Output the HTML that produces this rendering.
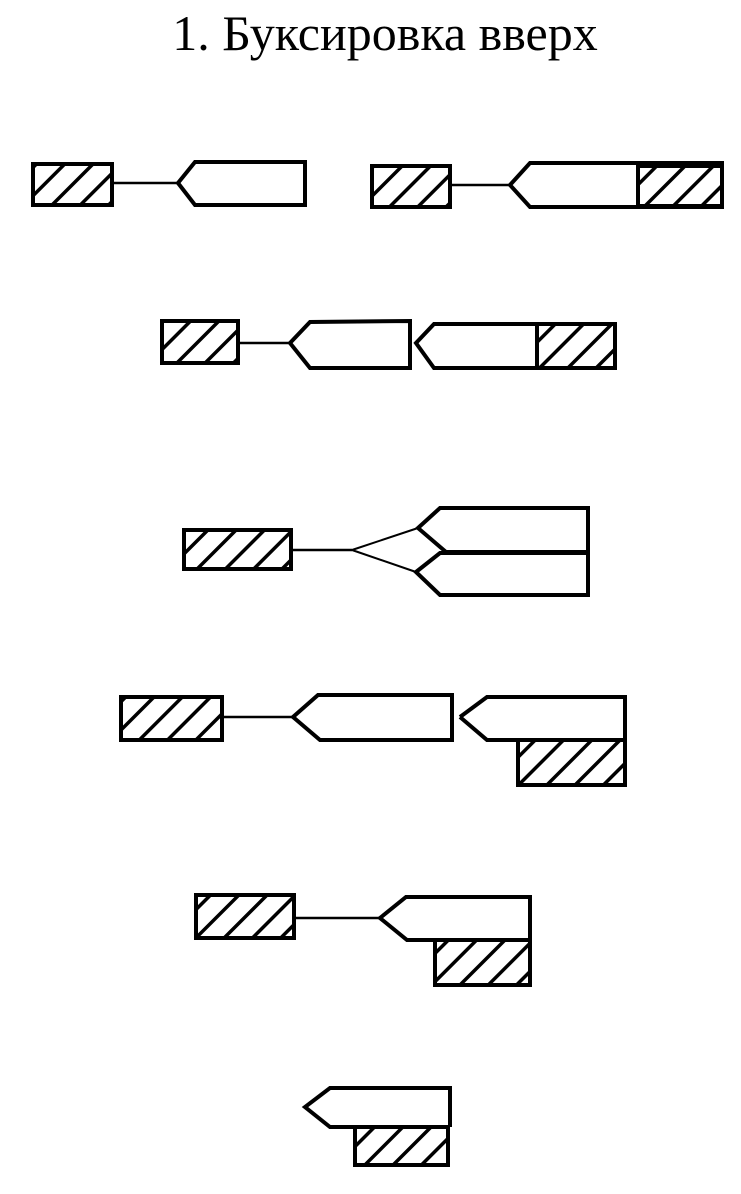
<!DOCTYPE html>
<html><head><meta charset="utf-8"><style>
html,body{margin:0;padding:0;background:#fff;}
svg{display:block;}
</style></head><body>
<svg width="741" height="1194" viewBox="0 0 741 1194" xmlns="http://www.w3.org/2000/svg">
<defs>
<pattern id="h" patternUnits="userSpaceOnUse" width="20" height="20" patternTransform="rotate(45)">
<rect width="20" height="20" fill="#fff"/>
<rect x="0" y="0" width="3.5" height="20" fill="#000"/>
</pattern>
</defs>
<text x="385" y="50" text-anchor="middle" font-family="Liberation Serif, serif" font-size="50" fill="#000">1. Буксировка вверх</text>
<g stroke="#000" stroke-width="4" fill="none" stroke-linejoin="miter">
<rect x="33" y="164" width="79" height="41" fill="url(#h)"/>
<line x1="112" y1="183" x2="178" y2="183" stroke-width="2.5"/>
<path d="M178 183 L195 162 L305 162 L305 205 L195 205 Z"/>
<rect x="372" y="166" width="78" height="41" fill="url(#h)"/>
<line x1="450" y1="185" x2="510" y2="185" stroke-width="2.5"/>
<rect x="638" y="166" width="84" height="40" fill="url(#h)"/>
<path d="M510 185 L530 163 L722 163 L722 207 L530 207 Z"/>
<rect x="162" y="321" width="76" height="42" fill="url(#h)"/>
<line x1="238" y1="343" x2="290" y2="343" stroke-width="2.5"/>
<path d="M290 343 L310 322 L410 321 L410 368 L310 368 Z"/>
<rect x="537" y="324" width="78" height="44" fill="url(#h)"/>
<path d="M416 343 L434 324 L537 324 L537 368 L434 368 Z"/>
<rect x="184" y="530" width="107" height="39" fill="url(#h)"/>
<line x1="291" y1="550" x2="352" y2="550" stroke-width="2.5"/>
<path d="M352 550 L418 528 M352 550 L416 572" stroke-width="2"/>
<path d="M418 528 L440 508 L588 508 L588 552 L446 552 Z"/>
<path d="M416 572 L440 553 L588 553 L588 595 L440 595 Z"/>
<rect x="121" y="697" width="101" height="43" fill="url(#h)"/>
<line x1="222" y1="717" x2="293" y2="717" stroke-width="2.5"/>
<path d="M293 717 L318 695 L452 695 L452 740 L320 740 Z"/>
<rect x="518" y="740" width="107" height="45" fill="url(#h)"/>
<path d="M460 717 L487 697 L625 697 L625 740"/>
<path d="M460 717 L487 740 L518 740"/>
<rect x="196" y="895" width="98" height="43" fill="url(#h)"/>
<line x1="294" y1="918" x2="380" y2="918" stroke-width="2.5"/>
<rect x="435" y="940" width="95" height="45" fill="url(#h)"/>
<path d="M435 940 L407 940 L380 918 L406 897 L530 897 L530 940"/>
<rect x="355" y="1127" width="93" height="38" fill="url(#h)"/>
<path d="M355 1127 L330 1127 L305 1107 L330 1088 L450 1088 L450 1127"/>
</g>
</svg>
</body></html>
